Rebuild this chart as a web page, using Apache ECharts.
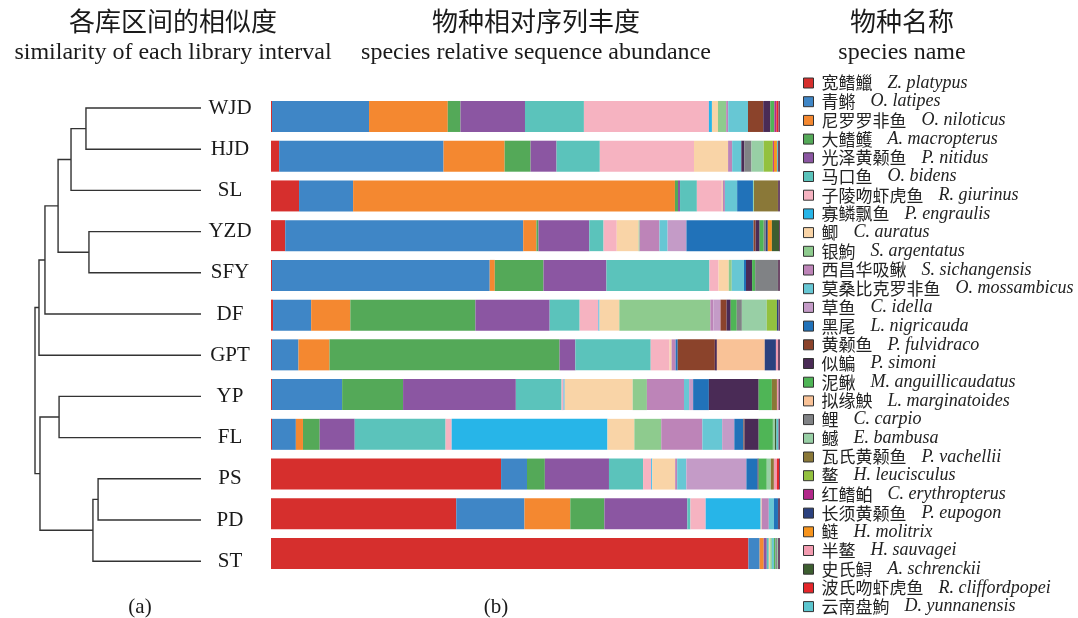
<!DOCTYPE html>
<html>
<head>
<meta charset="utf-8">
<script src="https://cdn.jsdelivr.net/npm/echarts@6/dist/echarts.min.js"></script>
<style>
  html, body { margin: 0; padding: 0; background: #fff; }
  #main { width: 1078px; height: 618px; }
</style>
</head>
<body>
<div id="main"></div>
<script>
// sites, top to bottom
var sites = ['WJD', 'HJD', 'SL', 'YZD', 'SFY', 'DF', 'GPT', 'YP', 'FL', 'PS', 'PD', 'ST'];

var speciesCn = ['宽鳍鱲', '青鳉', '尼罗罗非鱼', '大鳍鳠', '光泽黄颡鱼', '马口鱼', '子陵吻虾虎鱼', '寡鳞飘鱼',
  '鲫', '银鮈', '西昌华吸鳅', '莫桑比克罗非鱼', '草鱼', '黑尾', '黄颡鱼', '似鳊', '泥鳅', '拟缘䱀', '鲤', '鳡',
  '瓦氏黄颡鱼', '鳌', '红鳍鲌', '长须黄颡鱼', '鲢', '半鳌', '史氏鲟', '波氏吻虾虎鱼', '云南盘鮈'];
var speciesLa = ['Z. platypus', 'O. latipes', 'O. niloticus', 'A. macropterus', 'P. nitidus', 'O. bidens',
  'R. giurinus', 'P. engraulis', 'C. auratus', 'S. argentatus', 'S. sichangensis', 'O. mossambicus',
  'C. idella', 'L. nigricauda', 'P. fulvidraco', 'P. simoni', 'M. anguillicaudatus', 'L. marginatoides',
  'C. carpio', 'E. bambusa', 'P. vachellii', 'H. leucisculus', 'C. erythropterus', 'P. eupogon',
  'H. molitrix', 'H. sauvagei', 'A. schrenckii', 'R. cliffordpopei', 'D. yunnanensis'];
var colors = ['#d62f2d', '#3f86c6', '#f48830', '#54a958', '#8b56a2', '#5bc3bb', '#f6b3c1', '#27b5e8',
  '#f9d4a7', '#8ecb8e', '#bd84b8', '#67c7d4', '#c49bc7', '#2172b9', '#8b432b', '#4a2b56', '#4fb556',
  '#f9c297', '#808285', '#98cfa5', '#8a7838', '#93c13f', '#b2278a', '#2b417e', '#f7941d', '#f29bb0',
  '#3d5e30', '#e5262a', '#5cc6cf'];

// relative abundance (%) per site, in the species order above
var WJD = [0.2, 19.1, 15.5, 2.5, 12.7, 11.6, 24.6, 0.6, 1.2, 1.6, 0.4, 3.9, 0, 0, 3.0, 1.4, 0.8, 0, 0, 0, 0, 0, 0.4, 0, 0, 0, 0, 0.4, 0];
var HJD = [1.6, 32.3, 12.0, 5.1, 5.1, 8.5, 18.5, 0, 6.7, 0, 0.8, 1.8, 0, 0, 0, 0.6, 0, 0, 1.4, 2.4, 0, 1.8, 0.2, 0, 0.6, 0, 0, 0, 0.2];
var SL = [5.5, 10.6, 63.1, 0.6, 0.4, 3.3, 4.9, 0, 0.2, 0, 0.4, 2.4, 0, 3.1, 0, 0, 0, 0, 0, 0.2, 4.7, 0, 0, 0, 0, 0, 0, 0, 0];
var YZD = [2.8, 46.8, 2.6, 0.4, 10.0, 2.8, 2.6, 0, 4.3, 0.2, 3.9, 1.6, 3.7, 13.2, 0.4, 0.8, 0.8, 0, 0.4, 0, 0, 0, 0, 0.4, 0.8, 0, 1.4, 0, 0];
var SFY = [0.2, 42.9, 1.0, 9.6, 12.4, 20.3, 1.8, 0, 2.0, 0.6, 0, 2.4, 0, 0.4, 0, 1.2, 0.6, 0, 4.5, 0, 0, 0, 0, 0, 0, 0, 0, 0, 0];
var DF = [0.4, 7.5, 7.7, 24.6, 14.6, 5.9, 3.7, 0.2, 3.9, 17.9, 0.6, 0, 1.4, 0, 1.2, 0.8, 1.2, 0, 1.0, 4.9, 0, 2.0, 0, 0.3, 0, 0, 0, 0, 0];
var GPT = [0.2, 5.2, 6.1, 45.2, 3.1, 14.8, 3.7, 0, 0.4, 0, 0.8, 0, 0, 0.4, 7.3, 0.4, 0, 9.4, 0, 0, 0, 0, 0, 2.2, 0, 0.4, 0, 0, 0];
var YP = [0.2, 13.8, 0, 12.0, 22.2, 9.0, 0.4, 0.2, 13.4, 2.8, 7.3, 1.0, 0.8, 3.1, 0, 9.8, 2.6, 0, 0, 0, 1.0, 0, 0, 0, 0, 0.3, 0, 0, 0];
var FL = [0.2, 4.7, 1.4, 3.3, 6.9, 17.9, 1.2, 30.7, 5.3, 5.3, 8.1, 3.9, 2.4, 1.8, 0.2, 2.8, 2.8, 0, 0, 0.4, 0, 0, 0, 0, 0, 0, 0.3, 0, 0.4];
var PS = [45.2, 5.1, 0, 3.5, 12.6, 6.7, 1.6, 0.2, 4.5, 0, 0.4, 1.8, 11.8, 2.2, 0, 0.2, 1.6, 0, 0, 0.8, 0.6, 0, 0, 0, 0, 0.6, 0, 0.4, 0];
var PD = [36.4, 13.4, 9.0, 6.7, 16.3, 0.6, 3.0, 10.8, 0.2, 0, 1.4, 1.0, 0, 0.8, 0, 0, 0, 0, 0, 0, 0, 0, 0, 0, 0, 0, 0, 0, 0];
var ST = [93.8, 2.2, 0.8, 0, 0.6, 0.4, 0, 0, 0.3, 0.3, 0, 0.4, 0, 0, 0, 0, 0.3, 0, 0.3, 0.2, 0, 0, 0, 0, 0, 0, 0, 0, 0];
// unlisted remainder at the end of each bar
var otherShare = [0.3, 0.4, 0.4, 0.2, 0.4, 0.3, 0.4, 0.3, 0.3, 0.2, 0.4, 0.4];

// cluster tree: [child a, child b, distance]; leaves are 0..11, new nodes get 12, 13, ...
var linkage = [
  [0, 1, 0.693],
  [12, 2, 0.783],
  [3, 4, 0.675],
  [13, 14, 0.861],
  [15, 5, 0.940],
  [16, 6, 0.976],
  [7, 8, 0.855],
  [9, 10, 0.620],
  [19, 11, 0.651],
  [18, 20, 0.970],
  [17, 21, 1.0]
];

var rows = [WJD, HJD, SL, YZD, SFY, DF, GPT, YP, FL, PS, PD, ST];
var totals = rows.map(function (r, i) {
  return r.reduce(function (a, b) { return a + b; }, 0) + otherShare[i];
});

var serif = '"Liberation Serif", "Times New Roman", serif';
var cjk = '"Noto Sans CJK SC", sans-serif';

var series = speciesCn.map(function (name, k) {
  return {
    name: name,
    type: 'bar',
    stack: 'all',
    barWidth: 31,
    xAxisIndex: 0,
    yAxisIndex: 0,
    itemStyle: { color: colors[k] },
    silent: true,
    data: rows.map(function (r, i) { return r[k] / totals[i] * 100; })
  };
});
series.push({
  name: 'other',
  type: 'bar',
  stack: 'all',
  barWidth: 31,
  xAxisIndex: 0,
  yAxisIndex: 0,
  itemStyle: { color: '#6e4a68' },
  silent: true,
  data: otherShare.map(function (v, i) { return v / totals[i] * 100; })
});

// dendrogram segments from the linkage
var nodeY = sites.map(function (s, i) { return i; });
var nodeH = sites.map(function () { return 0; });
var links = [];
linkage.forEach(function (m) {
  var a = m[0], b = m[1], h = m[2];
  links.push([h, nodeY[a], nodeY[b], nodeH[a], nodeH[b]]);
  nodeY.push((nodeY[a] + nodeY[b]) / 2);
  nodeH.push(h);
});

series.push({
  type: 'custom',
  xAxisIndex: 1,
  yAxisIndex: 1,
  silent: true,
  data: links,
  renderItem: function (params, api) {
    var h = api.value(0), ya = api.value(1), yb = api.value(2), ha = api.value(3), hb = api.value(4);
    return {
      type: 'polyline',
      shape: {
        points: [api.coord([ha, ya]), api.coord([h, ya]), api.coord([h, yb]), api.coord([hb, yb])]
      },
      style: { stroke: '#333', lineWidth: 1.4, fill: null }
    };
  }
});

var myChart = echarts.init(document.getElementById('main'));

var titleCn = { fontFamily: cjk, fontSize: 26, fontWeight: 'normal', color: '#1a1a1a' };
var titleEn = { fontFamily: serif, fontSize: 24, color: '#1a1a1a' };

var option = {
  animation: false,
  backgroundColor: '#fff',
  title: [
    {
      text: '各库区间的相似度', subtext: 'similarity of each library interval',
      left: 168, top: 3, textAlign: 'center', itemGap: 7,
      textStyle: titleCn, subtextStyle: titleEn
    },
    {
      text: '物种相对序列丰度', subtext: 'species relative sequence abundance',
      left: 531, top: 3, textAlign: 'center', itemGap: 7,
      textStyle: titleCn, subtextStyle: titleEn
    },
    {
      text: '物种名称', subtext: 'species name',
      left: 897, top: 3, textAlign: 'center', itemGap: 7,
      textStyle: titleCn, subtextStyle: titleEn
    },
    {
      text: '(a)', left: 135, top: 592, textAlign: 'center',
      textStyle: { fontFamily: serif, fontSize: 21, fontWeight: 'normal', color: '#1a1a1a' }
    },
    {
      text: '(b)', left: 491, top: 592, textAlign: 'center',
      textStyle: { fontFamily: serif, fontSize: 21, fontWeight: 'normal', color: '#1a1a1a' }
    }
  ],
  legend: {
    orient: 'vertical',
    left: 803,
    top: 74,
    height: 560,
    padding: 0,
    icon: 'rect',
    itemWidth: 10,
    itemHeight: 10,
    itemGap: 0.7,
    selectedMode: false,
    itemStyle: { borderColor: '#333', borderWidth: 1 },
    data: speciesCn,
    formatter: function (name) {
      var k = speciesCn.indexOf(name);
      return '{cn|' + name + '}{la|' + speciesLa[k] + '}';
    },
    textStyle: {
      lineHeight: 16,
      rich: {
        cn: { fontFamily: cjk, fontSize: 17, lineHeight: 16, color: '#222', padding: [0, 15, 0, 3] },
        la: { fontFamily: serif, fontSize: 18, lineHeight: 16, fontStyle: 'italic', color: '#222' }
      }
    }
  },
  grid: [
    { left: 271, width: 509, top: 96.6, height: 476.8 },
    { left: 35, width: 166, top: 87.4, height: 494.4 }
  ],
  xAxis: [
    { gridIndex: 0, type: 'value', min: 0, max: 100, show: false },
    { gridIndex: 1, type: 'value', min: 0, max: 1, inverse: true, show: false }
  ],
  yAxis: [
    { gridIndex: 0, type: 'category', data: sites, inverse: true, show: false },
    { gridIndex: 1, type: 'value', min: -0.5, max: 11.5, inverse: true, show: false },
    {
      gridIndex: 1, type: 'category', data: sites, inverse: true, position: 'right',
      axisLine: { show: false }, axisTick: { show: false }, splitLine: { show: false },
      axisLabel: { margin: 29, align: 'center', fontFamily: serif, fontSize: 21, color: '#1a1a1a' }
    }
  ],
  series: series
};

myChart.setOption(option);
</script>
</body>
</html>
